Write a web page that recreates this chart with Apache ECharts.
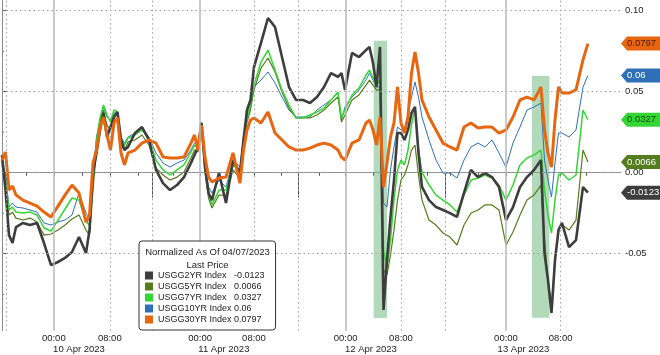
<!DOCTYPE html>
<html><head><meta charset="utf-8">
<script src="https://cdn.jsdelivr.net/npm/echarts@6/dist/echarts.min.js"></script>
<style>html,body{margin:0;padding:0;background:#fff}#c{width:660px;height:355px}</style>
</head><body><div id="c"></div>
<script>
// x = compressed session hours (Bloomberg intraday axis)
const X = [0,0.5,1,1.5,2,3,4,5,6,7, 8,9,10,11,12,12.5,13,13.5,14,14.5, 15,15.5,16,16.5,17,17.5,18,19,20,21, 22,23,24,25,26,27,27.5,28,28.5,29, 29.5,30,31,32,33,34,34.5,35,35.5,36, 37,38,39,40,41,42,43,44,45,46, 47,48,48.5,49,50,51,52,52.5,53,53.5, 54,54.5,55,55.5,56,56.5,57,57.5,58,58.5, 59,59.5,60,61,62,63,64,65,66,67, 68,69,70,71,72,73,74,75,76,77, 77.5,78,78.5,79,79.5,80,81,82,83,83.7];

const USGG2YR = [0.0109,-0.0107,-0.0385,-0.0434,-0.0335,-0.031,-0.0323,-0.031,-0.0434,-0.057,
-0.0551,-0.0526,-0.0489,-0.0397,-0.0496,-0.0354,-0.0002,0.0122,0.0264,0.0369,
0.022,0.0282,0.0344,0.0375,0.0202,0.014,0.0159,0.0245,0.0282,0.0202,
0.0017,-0.0064,-0.0107,-0.0076,-0.0027,0.006,0.0109,0.0159,0.0307,0.0035,
-0.0125,-0.0169,-0.0002,-0.0187,0.0078,-0.0002,0.0202,0.0387,0.0449,0.0652,
0.0801,0.0955,0.0899,0.0714,0.0529,0.0449,0.0449,0.043,0.0467,0.0529,
0.0615,0.0591,0.0615,0.0511,0.0739,0.0714,0.0757,0.0776,0.0677,0.0529,
0.0776,-0.0847,-0.0539,-0.0273,-0.0045,0.0245,0.0245,0.0202,0.0264,0.0369,
0.0406,0.0122,-0.0088,-0.0169,-0.0212,-0.023,-0.0249,-0.0273,-0.0125,0.0017,
-0.0027,-0.0002,-0.0027,-0.0088,-0.0292,-0.0212,-0.0088,-0.0027,0.0017,0.0078,
-0.0496,-0.0663,-0.0866,-0.0539,-0.0354,-0.031,-0.0459,-0.0416,-0.0088,-0.0123];

const USGG5YR = [0.0048,-0.0076,-0.0261,-0.0243,-0.028,-0.0292,-0.028,-0.0304,-0.0385,-0.0378,
-0.0354,-0.0323,-0.0286,-0.0261,-0.0354,-0.0385,-0.0107,0.014,0.0313,0.0387,
0.0294,0.0264,0.0356,0.0356,0.0171,0.014,0.019,0.0202,0.0233,0.0171,
0.0029,-0.0014,-0.0045,-0.0027,0.0004,0.0091,0.014,0.0128,0.0276,0.0004,
-0.0156,-0.0218,-0.0138,-0.0138,0.0017,-0.0033,0.0171,0.0313,0.0387,0.0511,
0.0646,0.0708,0.0622,0.0498,0.0399,0.0338,0.0338,0.0338,0.0356,0.0387,
0.043,0.0467,0.0313,0.0356,0.0449,0.048,0.0541,0.0572,0.0541,0.0511,
0.0511,-0.0601,-0.0631,-0.0508,-0.0354,-0.0169,-0.0045,-0.0014,0.0048,0.014,
0.0171,-0.0014,-0.0169,-0.0292,-0.0323,-0.0372,-0.0397,-0.0446,-0.0323,-0.0249,
-0.023,-0.0199,-0.0199,-0.023,-0.0446,-0.0366,-0.0261,-0.0169,-0.0138,-0.0076,
-0.0415,-0.0662,-0.0817,-0.0539,-0.0354,-0.0323,-0.0354,-0.0292,0.014,0.0066];

const USGG7YR = [0.0066,-0.0045,-0.023,-0.0212,-0.0243,-0.0249,-0.0243,-0.0261,-0.0341,-0.036,
-0.0292,-0.0224,-0.0156,-0.0169,-0.0304,-0.0323,-0.0045,0.0202,0.0338,0.0418,
0.0356,0.0313,0.0387,0.0375,0.0202,0.0171,0.0214,0.0233,0.0264,0.0214,
0.0078,0.0017,-0.0014,0.0017,0.0048,0.0128,0.0171,0.0152,0.0313,0.0029,
-0.0119,-0.0199,-0.0107,-0.0107,0.0048,0.0004,0.0202,0.0338,0.0418,0.0541,
0.0683,0.0757,0.0634,0.0511,0.0418,0.0338,0.0338,0.0356,0.0375,0.0399,
0.0449,0.0498,0.0338,0.0387,0.048,0.0523,0.0603,0.0634,0.0585,0.0541,
0.0572,-0.0477,-0.0588,-0.0415,-0.0169,0.0017,0.0078,0.0048,0.014,0.0294,
0.0406,0.014,0.0004,-0.0076,-0.0138,-0.0169,-0.0199,-0.0243,-0.0138,-0.0045,
-0.0033,-0.0014,-0.0033,-0.0076,-0.0169,-0.0076,0.0048,0.0091,0.0109,0.014,
-0.0107,-0.0261,-0.0372,-0.0169,-0.0014,-0.0002,-0.0045,-0.0014,0.0387,0.0327];

const USGG10YR = [0.0078,-0.0014,-0.0212,-0.0187,-0.0212,-0.0218,-0.023,-0.0243,-0.031,-0.0323,
-0.0304,-0.0292,-0.0261,-0.0125,-0.0249,-0.0292,-0.0027,0.022,0.0325,0.0406,
0.0344,0.0325,0.0369,0.0369,0.022,0.0183,0.022,0.0245,0.0276,0.022,
0.0122,0.006,0.0035,0.006,0.0078,0.014,0.0183,0.0183,0.0307,0.006,
-0.0088,-0.0125,-0.0045,-0.0088,0.0078,0.0035,0.022,0.0344,0.0406,0.0529,
0.0572,0.0622,0.0554,0.0467,0.0387,0.0344,0.0344,0.0344,0.0387,0.0418,
0.0449,0.0492,0.0325,0.0406,0.0467,0.0511,0.0572,0.0615,0.0572,0.0529,
0.0529,-0.0187,-0.0212,0.0017,0.0159,0.0282,0.0264,0.0264,0.0369,0.0467,
0.056,0.0467,0.0344,0.0202,0.0078,-0.0002,-0.0002,-0.0033,0.0078,0.0159,
0.0183,0.0159,0.0202,0.0122,0.0035,0.0183,0.0282,0.0387,0.0406,0.043,
0.0078,-0.0045,-0.015,0.006,0.0245,0.0245,0.022,0.0264,0.0529,0.06];

const USGG30YR = [0.0078,0.0128,-0.0107,-0.0082,-0.0138,-0.0169,-0.0187,-0.0206,-0.0243,-0.0273,
-0.0206,-0.0138,-0.0076,-0.0125,-0.0305,-0.0261,0.006,0.014,0.0282,0.0344,
0.0233,0.014,0.0307,0.0338,0.0122,0.0048,0.0122,0.014,0.0183,0.0202,
0.0183,0.0097,0.0091,0.0091,0.0097,0.0183,0.0233,0.014,0.0294,0.0097,
-0.0027,-0.0057,-0.0033,-0.0027,0.0122,-0.0064,0.014,0.0264,0.0325,0.0338,
0.0307,0.0375,0.0245,0.0202,0.0159,0.014,0.014,0.0152,0.0171,0.0183,
0.0171,0.014,0.0097,0.0078,0.0183,0.0202,0.0307,0.0325,0.0264,0.0171,
0.0344,-0.0088,0.006,0.022,0.0307,0.0529,0.0307,0.0245,0.0344,0.0615,
0.0745,0.0615,0.0449,0.0344,0.0264,0.0183,0.0159,0.014,0.0282,0.0307,
0.0276,0.0282,0.0282,0.0245,0.0264,0.0344,0.0449,0.0467,0.0449,0.0529,
0.0264,0.0122,0.0035,0.0325,0.0529,0.0492,0.0492,0.0511,0.0696,0.0797];

const SERIES_NAMES = ['USGG2YR Index','USGG5YR Index','USGG7YR Index','USGG10YR Index','USGG30YR Index'];
const LAST_PRICE = [-0.0123, 0.0066, 0.0327, 0.06, 0.0797];
const LEGEND_TITLE = 'Normalized As Of 04/07/2023\nLast Price';

const TIME_LABEL_X = [7.4, 15.4, 28.3, 36.0, 49.1, 57.0, 72.0, 79.8];
const TIME_LABEL_TEXT = ['00:00','08:00','00:00','08:00','00:00','08:00','00:00','08:00'];
const MIDNIGHT_X = [7.4, 28.3, 49.1, 72.0];
const EIGHT_X = [15.4, 36.0, 57.0, 79.8];
const SESSION_X = [0.6, 21.4, 42.3, 63.3];
const MINOR_TICK_X = [3.5, 11.4, 19.4, 24.4, 32.1, 39.9, 45.3, 53.0, 60.8, 64.0, 68.0, 75.7, 83.5];
const DATE_X = [11.0, 31.7, 52.7, 74.5];
const DATE_LABELS = ['10 Apr 2023','11 Apr 2023','12 Apr 2023','13 Apr 2023'];
const Y_TICKS = [-0.05, 0, 0.05, 0.10];
const Y_LABELS = ['-0.05','0.00','0.05','0.10'];
const Y_MINOR = [-0.075, -0.025, 0.025, 0.075];
// highlight boxes: [x0, x1, yLow, yHigh]
const HIGHLIGHTS = [[53.1, 55.0, -0.0897, 0.0815], [75.7, 78.2, -0.0895, 0.0597]];
const X_MIN = 0, X_MAX = 88.43, Y_MIN = -0.0975, Y_MAX = 0.1066;

const FONT = '"Liberation Sans", Arial, sans-serif';
const FS = 9.5;
const VALUES = [USGG2YR, USGG5YR, USGG7YR, USGG10YR, USGG30YR];
const STYLES = [
  {color:'#3d3d3d', width:2.6, tagText:'#ffffff'},
  {color:'#557d1d', width:1.2, tagText:'#ffffff'},
  {color:'#33d633', width:1.5, tagText:'#0b4d0b'},
  {color:'#2f6fb8', width:1, tagText:'#ffffff'},
  {color:'#e8660f', width:3, tagText:'#4a1800'}
];
const DRAW_ORDER = [3, 1, 2, 0, 4];
const nearest = (arr, v) => { let b = 0; arr.forEach((a, i) => { if (Math.abs(a - v) < Math.abs(arr[b] - v)) b = i; }); return b; };
const TAG_PATH = 'path://M0,7 L6,0 L46,0 L46,14 L6,14 Z';

const dotted = {color:'#a0a0a0', type:[1.5, 3], width:1};

const series = [{
  type:'line', name:'grid', data:[], z:1, silent:true, animation:false,
  markLine:{
    silent:true, symbol:['none','none'], animation:false, label:{show:false},
    data:[
      ...Y_TICKS.map(v => ({yAxis:v, lineStyle:dotted})),
      ...MIDNIGHT_X.map(v => ({xAxis:v, lineStyle:{color:'#b8b8b8', type:'solid', width:1.5}})),
      ...EIGHT_X.map(v => ({xAxis:v, lineStyle:dotted})),
      ...SESSION_X.map(v => ({xAxis:v, lineStyle:dotted}))
    ]
  },
  markArea:{
    silent:true, animation:false, itemStyle:{color:'rgba(100,180,118,0.5)'},
    data: HIGHLIGHTS.map(h => [{xAxis:h[0], yAxis:h[2]}, {xAxis:h[1], yAxis:h[3]}])
  }
}].concat(DRAW_ORDER.map(k => ({
  type:'line', name:SERIES_NAMES[k], z:3, animation:false,
  data: X.map((x, i) => [x, VALUES[k][i]]),
  showSymbol:false, symbol:'none',
  lineStyle:{color:STYLES[k].color, width:STYLES[k].width},
  itemStyle:{color:STYLES[k].color},
  markPoint:{
    silent:true, animation:false, symbol:TAG_PATH, symbolSize:[46,14], symbolKeepAspect:false,
    symbolOffset:[23,0], itemStyle:{color:STYLES[k].color},
    label:{show:true, position:'insideLeft', distance:6, color:STYLES[k].tagText, fontSize:FS, fontFamily:FONT,
      formatter: () => String(LAST_PRICE[k])},
    data:[{coord:[X_MAX, LAST_PRICE[k]]}]
  }
})));

const legendText = {fontSize:9, lineHeight:11, color:'#222', fontFamily:FONT};

const chart = echarts.init(document.getElementById('c'), null, {renderer:'canvas', width:660, height:355});
chart.setOption({
  animation:false,
  backgroundColor:'#ffffff',
  grid:{left:2, right:39, top:0, bottom:24.3, containLabel:false},
  title:{
    text:LEGEND_TITLE, left:207.5, top:246, textAlign:'center', padding:0, z:10,
    textStyle:{fontSize:FS, lineHeight:12.7, fontWeight:'normal', color:'#222', fontFamily:FONT}
  },
  legend:[{
    data:SERIES_NAMES, orient:'vertical', left:139, top:241, padding:[29,44,5,6], itemGap:0,
    itemWidth:8, itemHeight:8, icon:'rect', backgroundColor:'#ffffff', borderColor:'#333', borderWidth:1,
    borderRadius:3, z:8, selectedMode:false, textStyle:legendText
  },{
    data:SERIES_NAMES, orient:'vertical', left:229, top:241, padding:[29,0,0,0], itemGap:0,
    itemWidth:0, itemHeight:8, icon:'rect', backgroundColor:'transparent', borderWidth:0,
    z:9, selectedMode:false, textStyle:legendText,
    formatter: name => String(LAST_PRICE[SERIES_NAMES.indexOf(name)])
  }],
  xAxis:[{
    type:'value', min:X_MIN, max:X_MAX, position:'bottom', splitLine:{show:false},
    axisLine:{show:true, lineStyle:{color:'#8c8c8c', width:1}},
    axisTick:{show:true, customValues:[...MINOR_TICK_X, ...MIDNIGHT_X, ...EIGHT_X], length:3, lineStyle:{color:'#555'}},
    axisLabel:{show:true, customValues:TIME_LABEL_X, margin:3, color:'#222', fontSize:FS, fontFamily:FONT,
      formatter: v => TIME_LABEL_TEXT[nearest(TIME_LABEL_X, v)]}
  },{
    type:'value', min:X_MIN, max:X_MAX, position:'bottom', splitLine:{show:false},
    axisLine:{show:false},
    axisTick:{show:true, customValues:SESSION_X, length:25, lineStyle:{color:'#555'}},
    axisLabel:{show:true, customValues:DATE_X, margin:14, color:'#222', fontSize:FS, fontFamily:FONT,
      formatter: v => DATE_LABELS[nearest(DATE_X, v)]}
  }],
  yAxis:[{
    type:'value', position:'right', min:Y_MIN, max:Y_MAX, splitLine:{show:false},
    axisLine:{show:true, lineStyle:{color:'#8c8c8c', width:1}},
    axisTick:{show:true, customValues:Y_TICKS, length:4, lineStyle:{color:'#555'}},
    axisLabel:{show:true, customValues:Y_TICKS, margin:4, color:'#222', fontSize:FS, fontFamily:FONT,
      formatter: v => Y_LABELS[nearest(Y_TICKS, v)]}
  },{
    type:'value', position:'right', min:Y_MIN, max:Y_MAX, splitLine:{show:false},
    axisLine:{show:false},
    axisTick:{show:true, customValues:Y_MINOR, length:2, lineStyle:{color:'#888'}},
    axisLabel:{show:false}
  }],
  series: series
});
</script>
</body></html>
